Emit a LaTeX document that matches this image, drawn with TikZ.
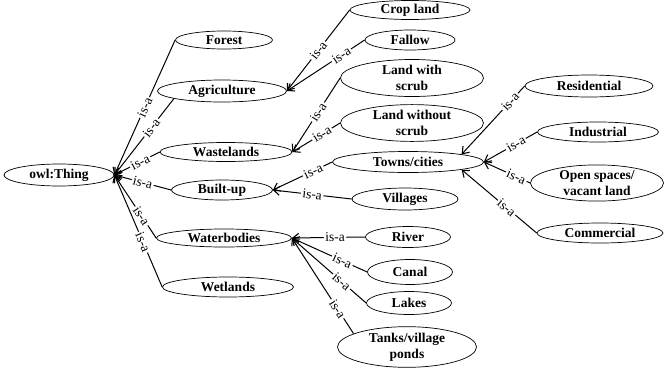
\documentclass[tikz,border=0pt]{standalone}
\usepackage{fontspec}
\setmainfont{Liberation Serif}
\usetikzlibrary{shapes.geometric,arrows.meta}
\begin{document}
\begin{tikzpicture}[x=1pt,y=-1pt,
  cls/.style={ellipse,draw,line width=0.7pt,inner sep=0pt,align=center,
    font=\bfseries\fontsize{13.5}{16.5}\selectfont},
  isa/.style={draw,line width=1pt,-{Straight Barb[length=6pt,width=9pt,line width=1.1pt]}},
  lbl/.style={fill=white,inner sep=1.5pt,sloped,font=\fontsize{13.5}{15}\selectfont}]
\useasboundingbox (0,0) rectangle (665,370);
% nodes
\node[cls,minimum width=110pt,minimum height=22pt] (thing) at (59,175) {owl:Thing};
\node[cls,minimum width=97pt,minimum height=18pt] (forest) at (224,40) {Forest};
\node[cls,minimum width=129pt,minimum height=22pt] (agri) at (222,91) {Agriculture};
\node[cls,minimum width=132pt,minimum height=19pt] (waste) at (226,152) {Wastelands};
\node[cls,minimum width=101pt,minimum height=20pt] (built) at (222,190) {Built-up};
\node[cls,minimum width=135pt,minimum height=18pt] (water) at (224,238) {Waterbodies};
\node[cls,minimum width=131pt,minimum height=20pt] (wet) at (228,287) {Wetlands};
\node[cls,minimum width=120pt,minimum height=19pt] (crop) at (410,10) {Crop land};
\node[cls,minimum width=90pt,minimum height=20pt] (fallow) at (410,40) {Fallow};
\node[cls,minimum width=143pt,minimum height=37pt] (lws) at (412,78) {Land with\\scrub};
\node[cls,minimum width=143pt,minimum height=34pt] (lwos) at (412,123) {Land without\\scrub};
\node[cls,minimum width=151pt,minimum height=21pt] (towns) at (408,162) {Towns/cities};
\node[cls,minimum width=106pt,minimum height=22pt] (vill) at (405,199) {Villages};
\node[cls,minimum width=128pt,minimum height=22pt] (res) at (589,86) {Residential};
\node[cls,minimum width=121pt,minimum height=20pt] (ind) at (598,132) {Industrial};
\node[cls,minimum width=133pt,minimum height=30pt] (open) at (597,183) {Open spaces/\\vacant land};
\node[cls,minimum width=126pt,minimum height=20pt] (comm) at (600,233) {Commercial};
\node[cls,minimum width=85pt,minimum height=21pt] (river) at (408,237) {River};
\node[cls,minimum width=85pt,minimum height=25pt] (canal) at (410,272) {Canal};
\node[cls,minimum width=85pt,minimum height=23pt] (lakes) at (409,303) {Lakes};
\node[cls,minimum width=139pt,minimum height=33pt] (tanks) at (407,347) {Tanks/village\\ponds};
% edges to owl:Thing
\draw[isa] (forest.west) -- node[lbl,pos=0.5]{is-a} (thing.east);
\draw[isa] (agri.189) -- node[lbl,pos=0.38]{is-a} (thing.east);
\draw[isa] (waste.west) -- node[lbl,pos=0.43]{is-a} (thing.east);
\draw[isa] (built.west) -- node[lbl,pos=0.5]{is-a} (thing.east);
\draw[isa] (water.west) -- node[lbl,pos=0.35]{is-a} (thing.east);
\draw[isa] (wet.west) -- node[lbl,pos=0.4]{is-a} (thing.east);
% agriculture
\draw[isa] (crop.west) -- node[lbl,pos=0.5]{is-a} (agri.east);
\draw[isa] (fallow.west) -- node[lbl,pos=0.3]{is-a} (agri.east);
% wastelands
\draw[isa] (lws.west) -- node[lbl,pos=0.46]{is-a} (waste.east);
\draw[isa] (lwos.west) -- node[lbl,pos=0.38]{is-a} (waste.east);
% built-up
\draw[isa] (towns.west) -- node[lbl,pos=0.32]{is-a} (built.east);
\draw[isa] (vill.west) -- node[lbl,pos=0.5]{is-a} (built.east);
% towns
\draw[isa] (res.west) -- node[lbl,pos=0.23]{is-a} (towns.north east);
\draw[isa] (ind.west) -- node[lbl,pos=0.4]{is-a} (towns.east);
\draw[isa] (open.west) -- node[lbl,pos=0.3]{is-a} (towns.east);
\draw[isa] (comm.west) -- node[lbl,pos=0.4]{is-a} (towns.south east);
% waterbodies
\draw[isa] (river.west) -- node[lbl,pos=0.41]{is-a} (water.east);
\draw[isa] (canal.west) -- node[lbl,pos=0.33]{is-a} (water.east);
\draw[isa] (lakes.west) -- node[lbl,pos=0.33]{is-a} (water.east);
\draw[isa] (tanks.166) -- node[lbl,pos=0.26]{is-a} (water.east);
\end{tikzpicture}
\end{document}
